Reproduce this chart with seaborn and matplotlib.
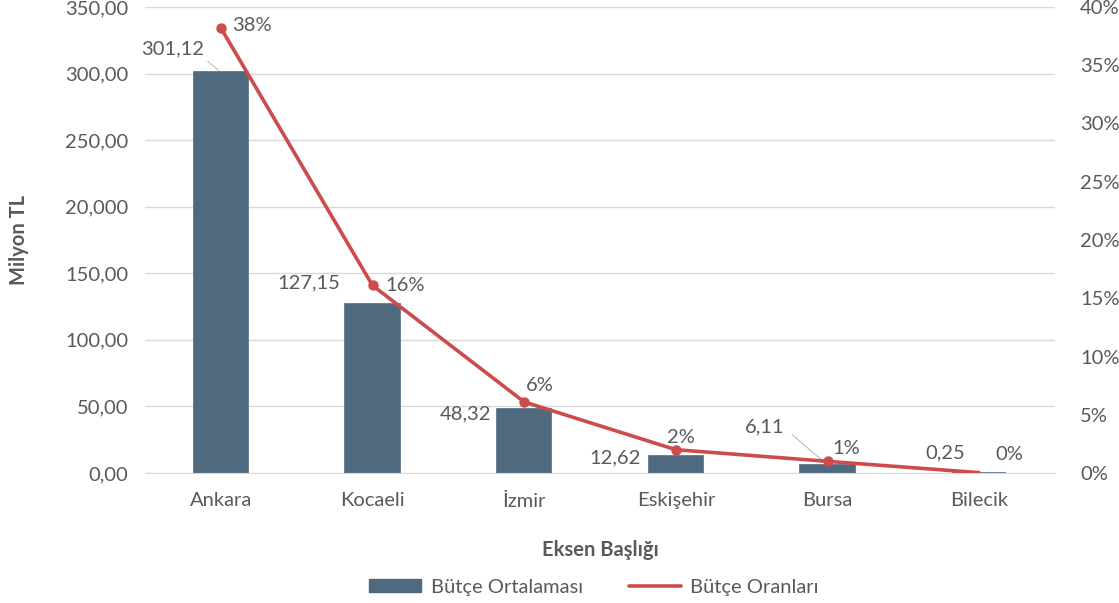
import seaborn as sns
import matplotlib.pyplot as plt
import pandas as pd
from matplotlib.patches import Patch
from matplotlib.lines import Line2D

# Veriler
sehirler = ['Ankara', 'Kocaeli', 'İzmir', 'Eskişehir', 'Bursa', 'Bilecik']
butce_ort = [301.12, 127.15, 48.32, 12.62, 6.11, 0.25]
butce_oran = [38.2, 16.1, 6.1, 2.0, 1.0, 0.03]
bar_etiket = ['301,12', '127,15', '48,32', '12,62', '6,11', '0,25']
oran_etiket = ['38%', '16%', '6%', '2%', '1%', '0%']
sol_ticks = [0, 50, 100, 150, 200, 250, 300, 350]
sol_etiket = ['0,00', '50,00', '100,00', '150,00', '20,000', '250,00', '300,00', '350,00']
sag_ticks = [0, 5, 10, 15, 20, 25, 30, 35, 40]

df = pd.DataFrame({'sehir': sehirler, 'ort': butce_ort, 'oran': butce_oran})

sns.set_style('white')
plt.rcParams['font.family'] = ['Lato', 'DejaVu Sans']
gri = '#595959'
bar_renk = '#4f6a7f'
cizgi_renk = '#cd4b4b'
fs = 14.5

fig = plt.figure(figsize=(11.19, 6.03), dpi=100)
ax = fig.add_axes([145 / 1119, 1 - 473 / 603, 910 / 1119, 466 / 603])

sns.barplot(data=df, x='sehir', y='ort', color=bar_renk, width=0.36,
            saturation=1, ax=ax, zorder=2, edgecolor=bar_renk, linewidth=1.2)
ax.set_ylim(0, 350)
ax.set_xlim(-0.5, 5.5)
ax.set_yticks(sol_ticks)
ax.set_yticklabels(sol_etiket)
ax.yaxis.grid(True, color='#d9d9d9', lw=1)
ax.set_axisbelow(True)
for s in ['top', 'left', 'right']:
    ax.spines[s].set_visible(False)
ax.spines['bottom'].set_color('#d9d9d9')
ax.tick_params(axis='y', length=0, pad=12, labelsize=fs, labelcolor=gri)
ax.tick_params(axis='x', length=0, pad=14, labelsize=fs, labelcolor=gri)
ax.set_xticks(range(6))
ax.set_xticks([i + 0.5 for i in range(-1, 6)], minor=True)
ax.tick_params(axis='x', which='minor', length=5, color='#d9d9d9')
ax.set_xlabel('Eksen Başlığı', fontsize=fs, fontweight='bold', color=gri, labelpad=22)
ax.set_ylabel('Milyon TL', fontsize=fs, fontweight='bold', color=gri, labelpad=26)

ax2 = ax.twinx()
sns.lineplot(x=list(range(6)), y=butce_oran, ax=ax2, color=cizgi_renk, lw=2.6,
             marker='o', markersize=7.5, markeredgewidth=0, zorder=3,
             markevery=[0, 1, 2, 3, 4])
ax2.set_ylim(0, 40)
ax2.set_yticks(sag_ticks)
ax2.set_yticklabels([f'{t}%' for t in sag_ticks])
ax2.tick_params(axis='y', length=0, pad=18, labelsize=fs, labelcolor=gri)
for s in ['top', 'left', 'right', 'bottom']:
    ax2.spines[s].set_visible(False)
ax2.grid(False)

# Çubuk etiketleri (Excel tarzı, sol üst)
bar_ofset = [(-12, 17), (-23, 15), (-24, -4), (-25, -1), (-31, 27), (-10, 14)]
for i, (v, t) in enumerate(zip(butce_ort, bar_etiket)):
    dx, dy = bar_ofset[i]
    ax.annotate(t, (i, v), xytext=(dx, dy), textcoords='offset points',
                ha='right', va='center', fontsize=fs, color=gri)
# kılavuz çizgiler
ax.annotate('', (0, butce_ort[0]), xytext=(-11, 9), textcoords='offset points',
            arrowprops=dict(arrowstyle='-', color='#bfbfbf', lw=0.8))
ax.annotate('', (4, butce_ort[4]), xytext=(-27, 23), textcoords='offset points',
            arrowprops=dict(arrowstyle='-', color='#bfbfbf', lw=0.8))

oran_ofset = [(8, 2), (9, 0), (1.5, 11.5), (-6.5, 9), (3.5, 9.5), (11.5, 13)]
for i, (v, t) in enumerate(zip(butce_oran, oran_etiket)):
    dx, dy = oran_ofset[i]
    ax2.annotate(t, (i, v), xytext=(dx, dy), textcoords='offset points',
                 ha='left', va='center', fontsize=fs, color=gri)

# Lejant
handles = [Patch(color=bar_renk), Line2D([0], [0], color=cizgi_renk, lw=2.6)]
fig.legend(handles, ['Bütçe Ortalaması', 'Bütçe Oranları'], loc='center',
           bbox_to_anchor=(594 / 1119, 1 - 587 / 603), ncol=2, frameon=False,
           fontsize=fs, labelcolor=gri, handlelength=2.6, handleheight=0.67,
           handletextpad=0.45, columnspacing=2.3)

plt.savefig('out.png', dpi=100)
